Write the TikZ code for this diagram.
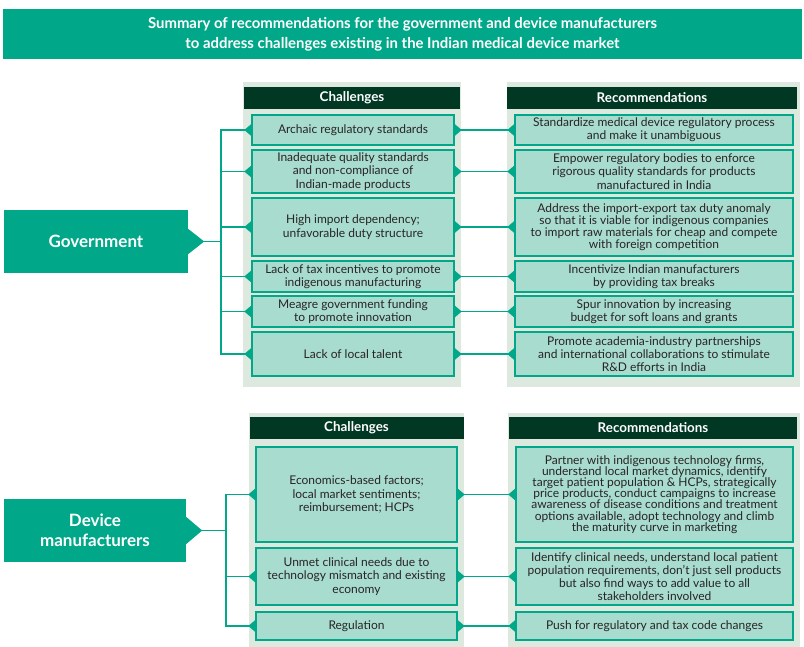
\documentclass[tikz,border=0pt]{standalone}
\usepackage{fontspec}
\setmainfont{Lato}
\usetikzlibrary{calc}
\definecolor{tealc}{RGB}{0,168,137}
\definecolor{boxc}{RGB}{168,220,206}
\definecolor{panelc}{RGB}{221,232,223}
\definecolor{hdrc}{RGB}{0,56,36}
\definecolor{txtc}{RGB}{40,36,37}
\newcommand\tipL[1]{\fill[tealc] ($(#1.west)+(0.6,-6.5)$) -- ($(#1.west)+(-7,0)$) -- ($(#1.west)+(0.6,6.5)$) -- cycle;}
\newcommand\tipR[1]{\fill[tealc] ($(#1.east)+(-0.6,-6.5)$) -- ($(#1.east)+(7,0)$) -- ($(#1.east)+(-0.6,6.5)$) -- cycle;}
\begin{document}
\begin{tikzpicture}[x=1pt,y=-1pt,
  hdr/.style={fill=hdrc, text=white, font=\bfseries\fontsize{13.4}{14}\selectfont, inner sep=0pt, minimum height=22pt},
  cbox/.style={fill=boxc, draw=tealc, line width=1.4pt, text=txtc, font=\fontsize{12}{13.3}\selectfont, align=center, inner sep=0pt},
  tight/.style={font=\fontsize{12}{11.8}\selectfont},
  tighter/.style={font=\fontsize{12}{11.1}\selectfont},
  conn/.style={draw=tealc, line width=1.8pt},
  actor/.style={fill=tealc, text=white, font=\bfseries\fontsize{17}{20}\selectfont, align=center, inner sep=0pt}]
\useasboundingbox (0,0) rectangle (804,647);
\fill[white] (0,0) rectangle (804,647);
% title
\node[fill=tealc, text=white, font=\bfseries\fontsize{14.9}{20}\selectfont, align=center, minimum width=799pt, minimum height=50pt, inner sep=0pt] (title) at (402.5,34) {Summary of recommendations for the government and device manufacturers\\to address challenges existing in the Indian medical device market};
% panels
\fill[panelc] (243,82) rectangle (461,387);
\fill[panelc] (507,82) rectangle (800,387);
\fill[panelc] (249,413) rectangle (464,647);
\fill[panelc] (508,413) rectangle (800,647);
% headers
\node[hdr, minimum width=216pt] (gch) at (352,98) {Challenges};
\node[hdr, minimum width=290pt] (grh) at (652,98) {Recommendations};
\node[hdr, minimum width=214pt] (dch) at (356.5,428) {Challenges};
\node[hdr, minimum width=288pt] (drh) at (653,428) {Recommendations};
% government challenges
\node[cbox, minimum width=202pt, minimum height=30pt] (gc1) at (353,130) {Archaic regulatory standards};
\node[cbox, minimum width=202pt, minimum height=43pt] (gc2) at (353,171.5) {Inadequate quality standards\\and non-compliance of\\Indian-made products};
\node[cbox, minimum width=202pt, minimum height=58pt] (gc3) at (353,227) {High import dependency;\\unfavorable duty structure};
\node[cbox, minimum width=202pt, minimum height=31pt] (gc4) at (353,276.5) {Lack of tax incentives to promote\\indigenous manufacturing};
\node[cbox, minimum width=202pt, minimum height=31pt] (gc5) at (353,311.5) {Meagre government funding\\to promote innovation};
\node[cbox, minimum width=202pt, minimum height=44pt] (gc6) at (353,354) {Lack of local talent};
% government recommendations
\node[cbox, minimum width=278pt, minimum height=30pt] (gr1) at (654,130) {Standardize medical device regulatory process\\and make it unambiguous};
\node[cbox, minimum width=278pt, minimum height=43pt] (gr2) at (654,171.5) {Empower regulatory bodies to enforce\\rigorous quality standards for products\\manufactured in India};
\node[cbox, tight, minimum width=278pt, minimum height=58pt] (gr3) at (654,227) {Address the import-export tax duty anomaly\\so that it is viable for indigenous companies\\to import raw materials for cheap and compete\\with foreign competition};
\node[cbox, minimum width=278pt, minimum height=31pt] (gr4) at (654,276.5) {Incentivize Indian manufacturers\\by providing tax breaks};
\node[cbox, minimum width=278pt, minimum height=31pt] (gr5) at (654,311.5) {Spur innovation by increasing\\budget for soft loans and grants};
\node[cbox, minimum width=278pt, minimum height=44pt] (gr6) at (654,354) {Promote academia-industry partnerships\\and international collaborations to stimulate\\R\&D efforts in India};
% device challenges
\node[cbox, minimum width=201pt, minimum height=95pt] (dc1) at (356.5,494.5) {Economics-based factors;\\local market sentiments;\\reimbursement; HCPs};
\node[cbox, minimum width=201pt, minimum height=57pt] (dc2) at (356.5,576.5) {Unmet clinical needs due to\\technology mismatch and existing\\economy};
\node[cbox, minimum width=201pt, minimum height=28pt] (dc3) at (356.5,626) {Regulation};
% device recommendations
\node[cbox, tighter, minimum width=277pt, minimum height=95pt] (dr1) at (654.5,494.5) {Partner with indigenous technology firms,\\understand local market dynamics, identify\\target patient population \& HCPs, strategically\\price products, conduct campaigns to increase\\awareness of disease conditions and treatment\\options available, adopt technology and climb\\the maturity curve in marketing};
\node[cbox, font=\fontsize{12}{12.8}\selectfont, minimum width=277pt, minimum height=57pt] (dr2) at (654.5,576.5) {Identify clinical needs, understand local patient\\population requirements, don't just sell products\\but also find ways to add value to all\\stakeholders involved};
\node[cbox, minimum width=277pt, minimum height=28pt] (dr3) at (654.5,626) {Push for regulatory and tax code changes};
% actors
\node[actor, minimum width=184pt, minimum height=63pt] (gov) at (96,241.5) {Government};
\fill[tealc] ($(gov.east)+(-0.5,-13)$) -- ($(gov.east)+(16,0)$) -- ($(gov.east)+(-0.5,13)$) -- cycle;
\node[actor, minimum width=182pt, minimum height=63pt] (dev) at (95,530.5) {Device\\manufacturers};
\fill[tealc] ($(dev.east)+(-0.5,-14)$) -- ($(dev.east)+(16,0)$) -- ($(dev.east)+(-0.5,14)$) -- cycle;
% bus lines
\coordinate (gbus) at (221,241.5);
\coordinate (dbus) at (226,530.5);
\draw[conn] (gov.east) -- (gbus |- gov.east);
\draw[conn] (gc1.west) -| (gbus |- gc6.west) -- (gc6.west);
\foreach \n in {gc2,gc3,gc4,gc5} {\draw[conn] (gbus |- \n.west) -- (\n.west);}
\draw[conn] (dev.east) -- (dbus |- dev.east);
\draw[conn] (dc1.west) -| (dbus |- dc3.west) -- (dc3.west);
\draw[conn] (dbus |- dc2.west) -- (dc2.west);
% row connectors
\foreach \a/\b in {gc1/gr1,gc2/gr2,gc3/gr3,gc4/gr4,gc5/gr5,gc6/gr6,dc1/dr1,dc2/dr2,dc3/dr3} {\draw[conn] (\a.east) -- (\b.west);}
% triangles
\foreach \n in {gc1,gc2,gc3,gc4,gc5,gc6,dc1,dc2,dc3} {\tipL{\n}\tipR{\n}}
\foreach \n in {gr1,gr2,gr3,gr4,gr5,gr6,dr1,dr2,dr3} {\tipL{\n}}
\end{tikzpicture}
\end{document}
